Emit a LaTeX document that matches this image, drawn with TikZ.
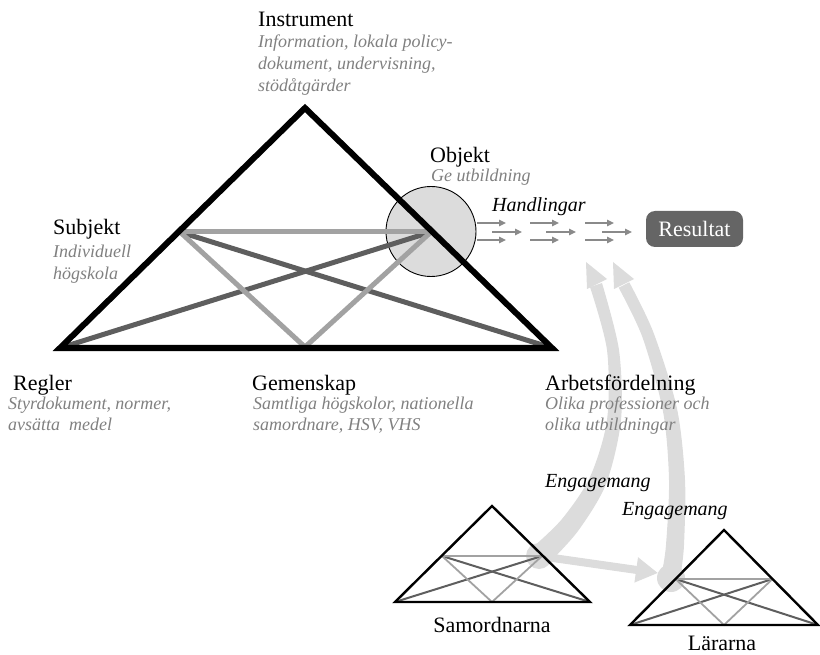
\documentclass[tikz,border=0pt]{standalone}
\usepackage{fontspec}
\setmainfont{Liberation Serif}
\usetikzlibrary{arrows.meta}
\definecolor{lightline}{HTML}{A2A2A2}
\definecolor{darkline}{HTML}{5E5E5E}
\definecolor{note}{HTML}{808080}
\definecolor{haze}{HTML}{DCDCDC}
\definecolor{boxfill}{HTML}{656565}
\definecolor{flow}{HTML}{8A8A8A}

\begin{document}
\begin{tikzpicture}[x=1pt,y=-1pt,
  every node/.style={inner sep=0pt},
  frame/.style={line width=6pt,line join=miter,black},
  light/.style={line width=5pt,lightline},
  dark/.style={line width=5pt,darkline},
  sframe/.style={line width=2.4pt,line join=miter,black},
  slight/.style={line width=1.8pt,lightline},
  sdark/.style={line width=2pt,darkline},
  title/.style={anchor=base west,font=\fontsize{22}{26}\selectfont},
  sub/.style={anchor=base west,font=\fontsize{18}{22}\selectfont\itshape,text=note},
  verb/.style={anchor=base west,font=\fontsize{20}{24}\selectfont\itshape},
  caption/.style={anchor=base,font=\fontsize{22}{26}\selectfont},
  flowarrow/.style={line width=1.4pt,flow,-{Triangle[length=7pt,width=6.5pt]}},
  engage/.style={haze,line width=8pt,-{Triangle[length=22pt,width=24pt]}}
]
\useasboundingbox (0,0) rectangle (820,655);

% ---------- main activity triangle: corner and mid points ----------
\coordinate (top) at (305,108);
\coordinate (bl) at (60,348);
\coordinate (br) at (552,348);
\coordinate (subj) at (180,232);
\coordinate (obj) at (431,232);
\coordinate (gem) at (305,347);

% ---------- small triangles ----------
\coordinate (s-top) at (492,506);
\coordinate (s-bl) at (395,602);
\coordinate (s-br) at (590,602);
\coordinate (s-l) at (442,556);
\coordinate (s-r) at (542,556);
\coordinate (s-g) at (492,602);

\coordinate (l-top) at (724,530);
\coordinate (l-bl) at (630,625);
\coordinate (l-br) at (818,625);
\coordinate (l-l) at (675.5,579);
\coordinate (l-r) at (772.5,579);
\coordinate (l-g) at (724,625);

% ---------- engagement flows (light grey, tapered) ----------
\coordinate (blobS) at (539,556);
\coordinate (blobL) at (671,578);
\coordinate (tipS) at (658,573);
\fill[haze] (blobS) circle (13);
\fill[haze] (blobL) circle (14);
\fill[haze] plot[smooth] coordinates {(590,287) (607,350) (607,420) (590,477) (562,519) (532,548)}
  -- plot[smooth] coordinates {(548,564) (578,531) (606,484) (621,420) (619,350) (602,283)} -- cycle;
\fill[haze] (586,262) -- (607,279) -- (587,289) -- cycle;
\fill[haze] plot[smooth] coordinates {(618.7,287.7) (642.5,337.4) (663,411.4) (669,480) (666,545) (662,572)}
  -- plot[smooth] coordinates {(681,572) (684,545) (685,480) (677,408.6) (653.5,332.6) (629.3,282.3)} -- cycle;
\fill[haze] (613,262) -- (634,279) -- (614,289) -- cycle;
\draw[engage] (blobS) -- (tipS);

% ---------- object circle ----------
\node[circle,draw=black,line width=0.9pt,fill=haze,minimum size=90pt] (objcircle) at (431,231.5) {};

% ---------- inner relations ----------
\draw[dark] (subj) -- (br);
\draw[dark] (obj) -- (bl);
\draw[light] (subj) -- (obj);
\draw[light] (subj) -- (gem) -- (obj);
\draw[frame] (top) -- (bl) -- (br) -- cycle;

\draw[sdark] (s-l) -- (s-br);
\draw[sdark] (s-r) -- (s-bl);
\draw[slight] (s-l) -- (s-r);
\draw[slight] (s-l) -- (s-g) -- (s-r);
\draw[sframe] (s-top) -- (s-bl) -- (s-br) -- cycle;

\draw[sdark] (l-l) -- (l-br);
\draw[sdark] (l-r) -- (l-bl);
\draw[slight] (l-l) -- (l-r);
\draw[slight] (l-l) -- (l-g) -- (l-r);
\draw[sframe] (l-top) -- (l-bl) -- (l-br) -- cycle;

% ---------- actions leading to the result ----------
\foreach \x in {477,530,585} {
  \draw[flowarrow] (\x,223) -- ++(29,0);
  \draw[flowarrow] (\x,240) -- ++(29,0);
}
\foreach \x in {492,546,602} {
  \draw[flowarrow] (\x,232) -- ++(30,0);
}
\node[fill=boxfill,rounded corners=9pt,minimum width=97pt,minimum height=36pt,
  text=white,font=\fontsize{22}{26}\selectfont] (result) at (694.5,229) {Resultat};

% ---------- labels ----------
\node[title] (instr) at (258,27) {Instrument};
\node[sub] (instr1) at (258,48) {Information, lokala policy-};
\node[sub] (instr2) at (258,70) {dokument, undervisning,};
\node[sub] (instr3) at (258,92) {stödåtgärder};

\node[title] (objl) at (430,163) {Objekt};
\node[sub] (obj1) at (431,182) {Ge utbildning};

\node[verb] (actions) at (492,212) {Handlingar};

\node[title] (subjl) at (53,235) {Subjekt};
\node[sub] (subj1) at (53,258) {Individuell};
\node[sub] (subj2) at (53,280) {högskola};

\node[title] (rules) at (13,390) {Regler};
\node[sub] (rules1) at (8,409) {Styrdokument, normer,};
\node[sub] (rules2) at (8,430) {avsätta\ \ medel};

\node[title] (comm) at (252,390) {Gemenskap};
\node[sub] (comm1) at (253,409) {Samtliga högskolor, nationella};
\node[sub] (comm2) at (253,430) {samordnare, HSV, VHS};

\node[title] (div) at (545,390) {Arbetsfördelning};
\node[sub] (div1) at (545,409) {Olika professioner och};
\node[sub] (div2) at (545,430) {olika utbildningar};

\node[verb] (eng1) at (545,487) {Engagemang};
\node[verb] (eng2) at (622,515) {Engagemang};

\node[caption] (samo) at (492,632) {Samordnarna};
\node[caption] (lara) at (722,650) {Lärarna};
\end{tikzpicture}
\end{document}
